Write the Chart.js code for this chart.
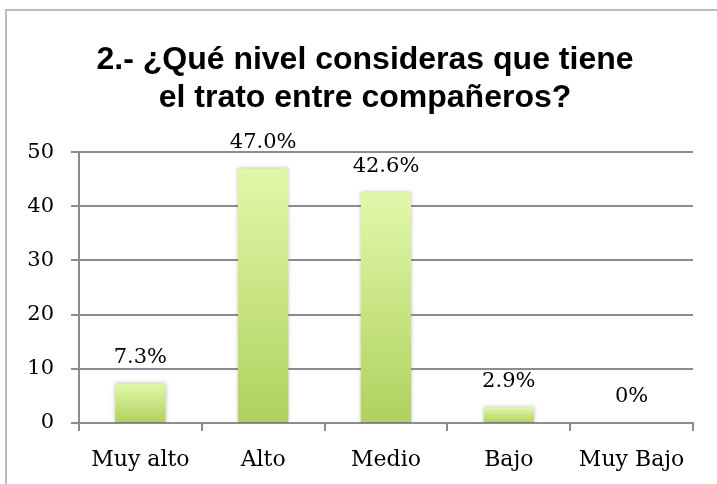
<!DOCTYPE html>
<html>
<head>
<meta charset="utf-8">
<script src="https://cdn.jsdelivr.net/npm/chart.js@4"></script>
<style>
  html, body { margin: 0; background: #fff; overflow: hidden; }
  canvas { display: block; }
</style>
</head>
<body>
<canvas id="myChart" width="717" height="484"></canvas>
<script>
// Categories and values
var categories = ['Muy alto', 'Alto', 'Medio', 'Bajo', 'Muy Bajo'];
var values = [7.3, 47.0, 42.6, 2.9, 0];
var valueLabels = ['7.3%', '47.0%', '42.6%', '2.9%', '0%'];
var yTicks = [0, 10, 20, 30, 40, 50];

var serif = "'DejaVu Serif', serif";

var ctx = document.getElementById('myChart').getContext('2d');

// Vertical gradient per bar, light on top, darker at the base
function barGradient(context) {
    var chart = context.chart;
    var y = chart.scales.y;
    if (!y || context.dataIndex === undefined) return '#c8e384';
    var top = y.getPixelForValue(values[context.dataIndex]);
    var base = y.getPixelForValue(0);
    if (!isFinite(top) || !isFinite(base)) return '#c8e384';
    if (base - top < 1) top = base - 1;
    var g = chart.ctx.createLinearGradient(0, top, 0, base);
    g.addColorStop(0, '#e1f8aa');
    g.addColorStop(1, '#afd15e');
    return g;
}

// Outer frame, soft shadow round the bars and the value text above them
var barExtras = {
    id: 'barExtras',
    beforeDraw: function(chart) {
        var c = chart.ctx;
        c.save();
        c.strokeStyle = '#bdbdbd';
        c.lineWidth = 2;
        c.strokeRect(6, 10, 800, 600);
        c.restore();
    },
    beforeDatasetDraw: function(chart) {
        chart.ctx.save();
        chart.ctx.shadowColor = 'rgba(0,0,0,0.25)';
        chart.ctx.shadowBlur = 4;
    },
    afterDatasetDraw: function(chart) {
        chart.ctx.restore();
    },
    afterDatasetsDraw: function(chart) {
        var c = chart.ctx;
        var meta = chart.getDatasetMeta(0);
        c.save();
        c.font = '21px ' + serif;
        c.fillStyle = '#000';
        c.textAlign = 'center';
        c.textBaseline = 'middle';
        meta.data.forEach(function(bar, i) {
            c.fillText(valueLabels[i], bar.x, bar.y - 26);
        });
        c.restore();
    }
};

var myChart = new Chart(ctx, {
    type: 'bar',
    data: {
        labels: categories,
        datasets: [{
            data: values,
            yAxisID: 'y',
            backgroundColor: barGradient,
            borderWidth: 0,
            categoryPercentage: 1,
            barPercentage: 0.41
        }]
    },
    options: {
        responsive: false,
        animation: false,
        layout: { padding: { top: 41, right: 0, left: 13, bottom: 0 } },
        plugins: {
            legend: { display: false },
            tooltip: { enabled: false },
            title: {
                display: true,
                text: ['2.- ¿Qué nivel consideras que tiene', 'el trato entre compañeros?'],
                color: '#000',
                font: { family: "'Liberation Sans', Arial, sans-serif", size: 32, weight: 'bold', lineHeight: 1.19 },
                padding: { top: 0, bottom: 35 }
            }
        },
        scales: {
            x: {
                grid: { offset: true, drawOnChartArea: false, color: '#8c8c8c', lineWidth: 2, tickLength: 8 },
                border: { color: '#8c8c8c', width: 2 },
                ticks: { color: '#000', font: { family: serif, size: 22 }, padding: 16 },
                afterFit: function(axis) { axis.height = 61; }
            },
            y: {
                min: 0,
                max: 50,
                afterBuildTicks: function(axis) { axis.ticks = yTicks.map(function(v) { return { value: v }; }); },
                grid: { color: '#8c8c8c', lineWidth: 2, tickLength: 8 },
                border: { color: '#8c8c8c', width: 2 },
                ticks: { color: '#000', font: { family: serif, size: 21 }, padding: 17 },
                afterFit: function(axis) { axis.width = 66; }
            },
            // empty right margin so the plot ends where the reference does
            y2: {
                position: 'right',
                min: 0,
                max: 50,
                grid: { display: false },
                border: { display: false },
                ticks: { display: false },
                afterFit: function(axis) { axis.width = 24; }
            }
        }
    },
    plugins: [barExtras]
});
</script>
</body>
</html>
